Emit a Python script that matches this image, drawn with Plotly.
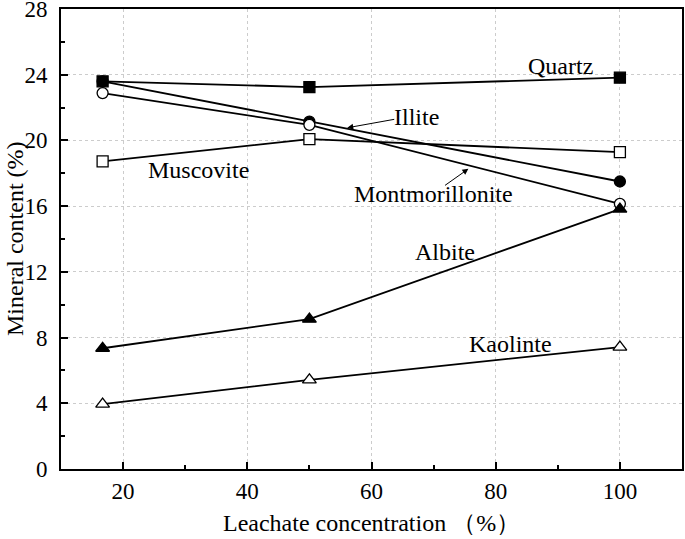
import plotly.graph_objects as go

concentration = [16.7, 50, 100]
quartz = [23.6, 23.25, 23.82]
illite = [23.6, 21.15, 17.5]
montmorillonite = [22.88, 20.95, 16.14]
muscovite = [18.72, 20.08, 19.29]
albite = [7.35, 9.12, 15.82]
kaolinte = [3.95, 5.43, 7.42]

FONT = "Liberation Serif"
TXT = 24

fig = go.Figure()

def add(name, ys, symbol, filled):
    fig.add_trace(go.Scatter(
        x=concentration, y=ys, name=name, mode="lines+markers",
        line=dict(color="black", width=1.8),
        marker=dict(symbol=symbol, size=12 if "triangle" in symbol else 11,
                    color="black" if filled else "white",
                    line=dict(color="black", width=1.3)),
        showlegend=False,
    ))

add("Illite", illite, "circle", True)
add("Montmorillonite", montmorillonite, "circle", False)
add("Muscovite", muscovite, "square", False)
add("Quartz", quartz, "square", True)
add("Albite", albite, "triangle-up", True)
add("Kaolinte", kaolinte, "triangle-up", False)

labels = [
    ("Quartz", 90.4, 24.55),
    ("Illite", 67.3, 21.45),
    ("Montmorillonite", 70.0, 16.75),
    ("Muscovite", 32.2, 18.17),
    ("Albite", 71.9, 13.2),
    ("Kaolinte", 82.4, 7.62),
]
for txt, lx, ly in labels:
    fig.add_annotation(x=lx, y=ly, text=txt, showarrow=False,
                       font=dict(family=FONT, size=TXT, color="black"))

arrows = [
    # (head x, head y, tail x, tail y)
    (56.1, 20.77, 63.9, 21.3),
    (75.6, 18.27, 71.6, 17.2),
]
for hx, hy, tx, ty in arrows:
    fig.add_annotation(x=hx, y=hy, ax=tx, ay=ty, axref="x", ayref="y",
                       text="", showarrow=True, arrowhead=2, arrowsize=1.2,
                       arrowwidth=1, arrowcolor="black")

# axis titles
fig.add_annotation(xref="paper", yref="paper", x=0, y=0.5, xshift=-46,
                   xanchor="center", yanchor="middle", showarrow=False,
                   textangle=-90, text="Mineral content (%)",
                   font=dict(family=FONT, size=TXT, color="black"))
fig.add_annotation(xref="paper", yref="paper", x=0.5, y=0, yshift=-54,
                   yanchor="middle", xanchor="center", showarrow=False,
                   text="Leachate concentration （%）",
                   font=dict(family=FONT, size=TXT, color="black"))

axis_common = dict(
    showline=True, linecolor="black", linewidth=2, mirror=True,
    ticks="inside", tickcolor="black", tickwidth=2, ticklen=7,
    showgrid=True, gridcolor="#cccccc", griddash="dot", gridwidth=1,
    zeroline=False, automargin=False, ticklabeloverflow="allow",
    tickfont=dict(family=FONT, size=23, color="black"),
)

fig.update_xaxes(
    range=[10, 110], tickvals=[20, 40, 60, 80, 100],
    minor=dict(ticks="inside", ticklen=4, tickwidth=2, tickcolor="black",
               dtick=10, tick0=0, showgrid=False),
    **axis_common,
)
fig.update_yaxes(
    range=[0, 28], tickvals=[0, 4, 8, 12, 16, 20, 24, 28],
    minor=dict(ticks="inside", ticklen=4, tickwidth=2, tickcolor="black",
               dtick=2, tick0=0, showgrid=False),
    ticklabelstandoff=7,
    **axis_common,
)

fig.update_layout(
    width=685, height=539,
    margin=dict(l=61, r=3, t=9, b=70),
    plot_bgcolor="white", paper_bgcolor="white",
    font=dict(family=FONT, color="black"),
)

fig.write_html("out.html",
               config={"displayModeBar": False},
               post_script="document.body.style.margin='0';"
                           "document.body.style.overflow='hidden';")
